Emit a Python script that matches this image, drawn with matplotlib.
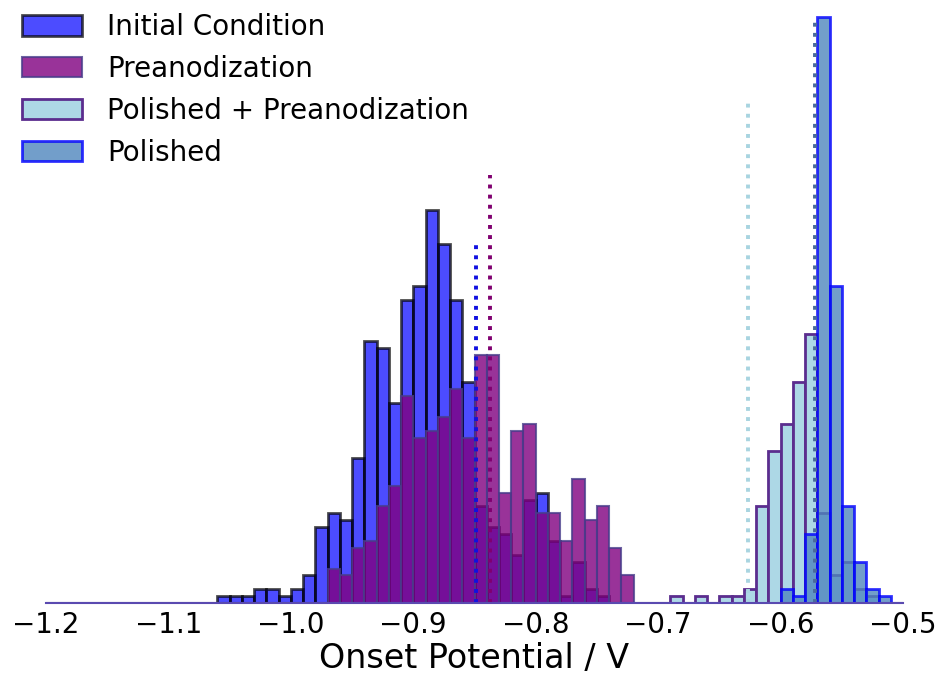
import numpy as np
import matplotlib
matplotlib.use("Agg")
import matplotlib.pyplot as plt

# bin edges: 0.01 V wide, from -1.2 to -0.5
edges = np.round(np.arange(-1.20, -0.495, 0.01), 3)
centers = edges[:-1] + 0.005

# counts per bin, each series starting at the given bin left edge
initial_start = -1.06
initial_counts = [1, 1, 1, 2, 2, 1, 2, 4, 11, 13, 12, 21, 38, 37, 29, 44, 46,
                  57, 52, 44, 32, 14, 11, 10, 7, 15, 16, 9, 1, 6, 2, 1]
preanod_start = -0.97
preanod_counts = [5, 4, 8, 9, 14, 17, 30, 24, 25, 27, 31, 24, 36, 36, 16, 25,
                  26, 13, 13, 9, 18, 12, 14, 8, 4]
pol_preanod_start = -0.69
pol_preanod_counts = [1, 0, 1, 0, 1, 1, 2, 14, 22, 26, 32, 39, 13, 4, 6, 2, 1]
polished_start = -0.60
polished_counts = [2, 1, 10, 85, 46, 14, 6, 2, 1]

# mean lines (position, height)
mean_x = [-0.849, -0.837, -0.627, -0.572]
mean_h = [52.5, 62, 73, 85]

labels = ['Initial Condition', 'Preanodization',
          'Polished + Preanodization', 'Polished']


def full_weights(start, counts):
    w = np.zeros(len(centers))
    i0 = int(round((start - edges[0]) / 0.01))
    w[i0:i0 + len(counts)] = counts
    return w


fig = plt.figure(figsize=(9.41, 6.81), dpi=100)
ax = fig.add_axes([46 / 941, 78 / 681, 857 / 941, 593 / 681])

dots = (0, (1, 1.6))
lw_mean = 2.8

ax.hist(centers, bins=edges, weights=full_weights(initial_start, initial_counts),
        color='blue', alpha=0.7, edgecolor='black', linewidth=2,
        label=labels[0])
ax.vlines(mean_x[0], 0, mean_h[0], colors='#1010e0', linestyles=dots, lw=lw_mean)

ax.hist(centers, bins=edges, weights=full_weights(preanod_start, preanod_counts),
        color='purple', alpha=0.8, edgecolor='darkslateblue', linewidth=1.5,
        label=labels[1])
ax.vlines(mean_x[1], 0, mean_h[1], colors='#800070', linestyles=dots, lw=lw_mean)

ax.hist(centers, bins=edges,
        weights=full_weights(pol_preanod_start, pol_preanod_counts),
        color='lightblue', alpha=1.0, edgecolor='#5b2d8e', linewidth=2,
        label=labels[2])
ax.vlines(mean_x[2], 0, mean_h[2], colors='#a8d4e0', linestyles=dots, lw=lw_mean)

ax.hist(centers, bins=edges, weights=full_weights(polished_start, polished_counts),
        color='#4f86bd', alpha=0.8, edgecolor='blue', linewidth=2,
        label=labels[3])
ax.vlines(mean_x[3], 0, mean_h[3], colors='#4a6a9a', linestyles=dots, lw=lw_mean)

ax.set_xlim(-1.2, -0.5)
ax.set_ylim(0, 86)
for s in ['top', 'right', 'left']:
    ax.spines[s].set_visible(False)
ax.spines['bottom'].set_color('#5a4ab0')
ax.spines['bottom'].set_linewidth(1.5)
ax.set_yticks([])
ax.set_xticks([-1.2, -1.1, -1.0, -0.9, -0.8, -0.7, -0.6, -0.5])
ax.tick_params(axis='x', length=0, labelsize=20, pad=6)
ax.set_xlabel('Onset Potential / V', fontsize=24, labelpad=2)

leg = ax.legend(loc='upper left', bbox_to_anchor=(-0.057, 1.037), frameon=False,
                fontsize=20, handlelength=2.15, handleheight=0.75,
                labelspacing=0.5, handletextpad=0.9)

fig.savefig('out.png', dpi=100)
